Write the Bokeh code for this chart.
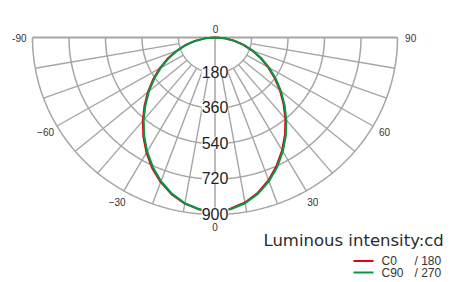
import numpy as np
from bokeh.plotting import figure
from bokeh.models import Range1d, Label
from bokeh.embed import file_html
from bokeh.resources import INLINE

# ---- data ----
angles = list(range(-90, 95, 5))  # degrees, 0 = straight down
c0_180 = [0, 50, 101, 153, 205, 260, 316, 373, 432, 492, 554, 616, 676, 733, 783, 826, 858, 878, 884,
          874, 852, 817, 772, 719, 662, 602, 540, 478, 418, 359, 302, 248, 195, 145, 96, 48, 0]
c90_270 = [0, 49, 98, 149, 200, 254, 309, 366, 425, 485, 547, 609, 669, 726, 778, 822, 856, 877, 884,
           877, 856, 822, 778, 726, 669, 609, 547, 485, 425, 366, 309, 254, 200, 149, 98, 49, 0]
ring_values = [180, 360, 540, 720, 900]
ring_labels = ["180", "360", "540", "720", "900"]
spoke_angles = [-80, -70, -60, -50, -40, -30, -20, -10, 10, 20, 30, 40, 50, 60, 70, 80]
tick_angles = [-90, -60, -30, 0, 30, 60, 90]
tick_labels = ["-90", "\u221260", "\u221230", "0", "30", "60", "90"]
series_names = ["C0", "C90"]
series_suffix = ["/ 180", "/ 270"]
series_colors = ["#e60012", "#009944"]
title_text = "Luminous intensity:cd"

# ---- layout (pixel geometry of the page; the canvas starts at page 0,0) ----
OX, OY = 0, 0
W, H = 452, 282
CX, CY = 214.5, 37.0          # page px of polar centre
SX = 182.5 / 900.0            # px per unit, horizontal
SY = 177.0 / 900.0            # px per unit, vertical


def px2data(px, py):
    return (px - CX) / SX, (CY - py) / SY


x0, y_top = px2data(OX, OY)
x1, y_bot = px2data(OX + W, OY + H)

p = figure(width=W, height=H, output_backend="svg", toolbar_location=None,
           x_range=Range1d(x0, x1), y_range=Range1d(y_bot, y_top),
           min_border=0, outline_line_color=None)
p.axis.visible = False
p.grid.visible = False
p.background_fill_color = "white"
p.border_fill_color = "white"

GRID = "#a5a5a5"


def polar_xy(deg, r):
    t = np.radians(np.asarray(deg, dtype=float))
    r = np.asarray(r, dtype=float)
    return r * np.sin(t), -r * np.cos(t)


# rings
arc_deg = np.linspace(-90, 90, 361)
for rv in ring_values:
    xs, ys = polar_xy(arc_deg, np.full_like(arc_deg, rv))
    p.line(xs, ys, line_color=GRID, line_width=1.5)

# spokes
sx0, sy0 = polar_xy(spoke_angles, [ring_values[0]] * len(spoke_angles))
sx1, sy1 = polar_xy(spoke_angles, [ring_values[-1]] * len(spoke_angles))
p.segment(sx0, sy0, sx1, sy1, line_color=GRID, line_width=1.4)
# vertical and top line
vx, vy = polar_xy([0, 0], [0, ring_values[-1]])
p.line(vx, vy, line_color=GRID, line_width=1.5)
hx, hy = polar_xy([-90, 90], [ring_values[-1], ring_values[-1]])
p.line(hx, hy, line_color=GRID, line_width=2)

# curves
rx, ry = polar_xy(angles, c0_180)
p.line(rx, ry, line_color=series_colors[0], line_width=2)
gx, gy = polar_xy(angles, c90_270)
p.line(gx, gy, line_color=series_colors[1], line_width=2)

# ring labels
for rv, lab in zip(ring_values, ring_labels):
    p.add_layout(Label(x=0, y=-rv + 1.0 / SY, text=lab, text_align="center",
                       text_baseline="alphabetic", text_font="Liberation Sans",
                       text_font_size="16px", text_color="#222222",
                       background_fill_color="white", background_fill_alpha=1.0,
                       padding=0))

# angle tick labels
lx, ly = polar_xy(tick_angles, [965] * len(tick_angles))
for x, y, lab in zip(lx, ly, tick_labels):
    p.add_layout(Label(x=x, y=y, text=lab, text_align="center", text_baseline="middle",
                       text_font="Liberation Sans", text_font_size="10px",
                       text_color="#333333"))
tx, ty = px2data(CX + 0.5, 28)
p.add_layout(Label(x=tx, y=ty, text="0", text_align="center", text_baseline="middle",
                   text_font="Liberation Sans", text_font_size="10px", text_color="#333333"))

# title
tx, ty = px2data(263, 239.5)
p.add_layout(Label(x=tx, y=ty, text=title_text, text_align="left", text_baseline="alphabetic",
                   text_font="DejaVu Sans", text_font_size="16.5px", text_color="#2b2b2b"))

# legend
rows_py = [260.5, 272]
for name, suf, col, py in zip(series_names, series_suffix, series_colors, rows_py):
    ax, ay = px2data(353, py)
    bx, by = px2data(373, py)
    p.line([ax, bx], [ay, by], line_color=col, line_width=2)
    nx, ny = px2data(381, py)
    p.add_layout(Label(x=nx, y=ny, text=name, text_align="left", text_baseline="middle",
                       text_font="Liberation Sans", text_font_size="12px", text_color="#333333"))
    sx_, sy_ = px2data(414, py)
    p.add_layout(Label(x=sx_, y=sy_, text=suf, text_align="left", text_baseline="middle",
                       text_font="Liberation Sans", text_font_size="12px", text_color="#333333"))

open("out.html", "w").write(file_html(p, INLINE))
